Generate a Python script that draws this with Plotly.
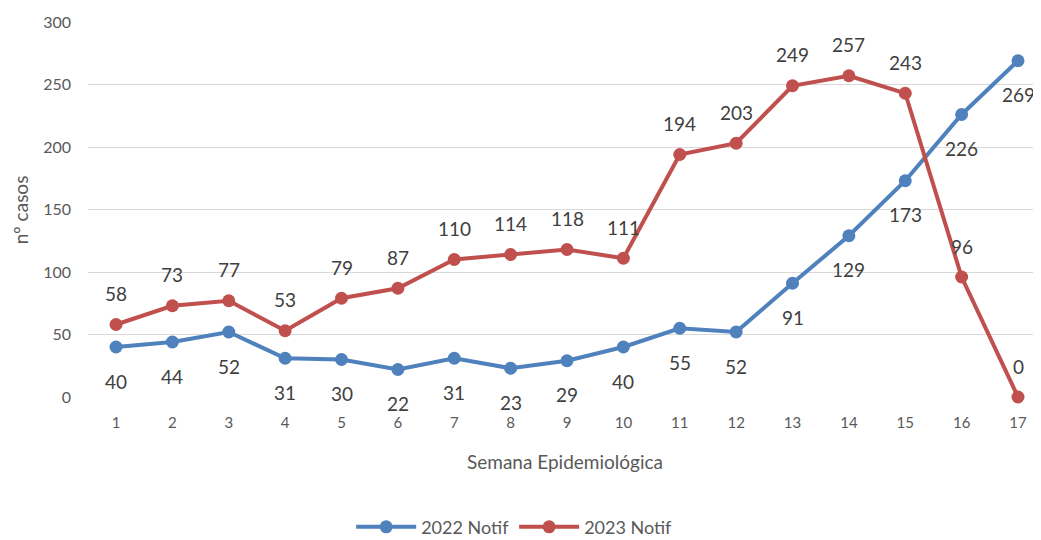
import plotly.graph_objects as go

semanas = list(range(1, 18))
notif_2022 = [40, 44, 52, 31, 30, 22, 31, 23, 29, 40, 55, 52, 91, 129, 173, 226, 269]
notif_2023 = [58, 73, 77, 53, 79, 87, 110, 114, 118, 111, 194, 203, 249, 257, 243, 96, 0]

BLUE = "#4F81BD"
RED = "#C0504D"
FONT = "Lato, 'Open Sans', sans-serif"

fig = go.Figure()
fig.add_trace(go.Scatter(x=semanas, y=notif_2022, name="2022 Notif", mode="lines+markers",
                         line=dict(color=BLUE, width=4), marker=dict(color=BLUE, size=13)))
fig.add_trace(go.Scatter(x=semanas, y=notif_2023, name="2023 Notif", mode="lines+markers",
                         line=dict(color=RED, width=4), marker=dict(color=RED, size=13)))

annotations = []
for x, v in zip(semanas, notif_2022):
    annotations.append(dict(x=x, y=v, xref="x", yref="y", text=str(v), showarrow=False,
                            yshift=-34, font=dict(size=19, color="#404040", family=FONT)))
for x, v in zip(semanas, notif_2023):
    annotations.append(dict(x=x, y=v, xref="x", yref="y", text=str(v), showarrow=False,
                            yshift=31, font=dict(size=19, color="#404040", family=FONT)))
annotations.append(dict(x=0.5, y=-0.171, xref="paper", yref="paper", text="Semana Epidemiológica",
                        showarrow=False, yanchor="middle",
                        font=dict(size=19, color="#595959", family=FONT)))
annotations.append(dict(x=-0.0705, y=0.5, xref="paper", yref="paper", text="nº casos",
                        showarrow=False, textangle=-90, xanchor="center", yanchor="middle",
                        font=dict(size=19, color="#595959", family=FONT)))

# page body has an 8px margin; figure is sized so the page matches 1041x540
fig.update_layout(
    width=1033, height=532,
    margin=dict(l=80, r=0, t=14, b=143, autoexpand=False),
    paper_bgcolor="white", plot_bgcolor="white",
    font=dict(family=FONT, color="#595959"),
    xaxis=dict(range=[0.503, 17.408], tickmode="array", tickvals=semanas,
               ticktext=[str(s) for s in semanas], showgrid=False, zeroline=False,
               showline=False, ticks="", ticklabelstandoff=15,
               tickfont=dict(size=15, color="#595959")),
    yaxis=dict(range=[0, 300], tickvals=[0, 50, 100, 150, 200, 250, 300],
               showgrid=True, gridcolor="#D9D9D9", gridwidth=1, zeroline=False,
               showline=False, ticks="", ticklabelstandoff=16,
               tickfont=dict(size=16, color="#595959")),
    legend=dict(orientation="h", xref="container", yref="paper", x=0.49, y=-0.347,
                xanchor="center", yanchor="middle", font=dict(size=18, color="#595959"),
                itemwidth=60),
    annotations=annotations,
    showlegend=True,
)
fig.update_traces(cliponaxis=False)

fig.write_html("out.html")
